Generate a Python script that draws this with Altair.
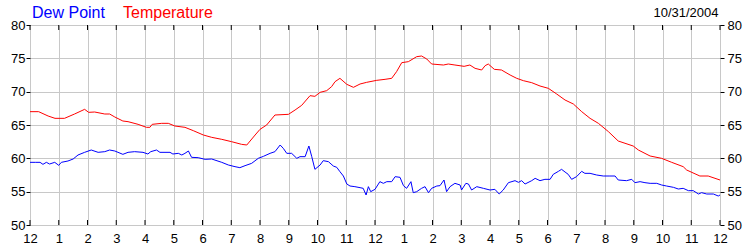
import altair as alt
import pandas as pd

# ---- data (hours since midnight, degrees F) ----
dew_hours = [0.0, 0.2, 0.35, 0.45, 0.57, 0.68, 0.86, 1.0, 1.09, 1.32, 1.5, 1.67, 1.9, 2.13, 2.37, 2.6, 2.77, 2.95,
             3.23, 3.41, 3.64, 3.93, 4.1, 4.2, 4.4, 4.52, 4.87, 4.97, 5.16, 5.28, 5.39, 5.51, 5.62, 5.85, 6.09, 6.32,
             6.67, 6.9, 7.13, 7.3, 7.48, 7.71, 7.94, 8.12, 8.35, 8.52, 8.7, 8.81, 8.93, 9.1, 9.28, 9.39, 9.57, 9.7,
             9.8, 9.91, 10.09, 10.2, 10.38, 10.55, 10.67, 10.78, 10.9, 11.02, 11.13, 11.3, 11.48, 11.59, 11.69, 11.77,
             11.85, 12.0, 12.17, 12.29, 12.41, 12.58, 12.7, 12.87, 12.99, 13.1, 13.25, 13.33, 13.45, 13.62, 13.74,
             13.86, 13.97, 14.15, 14.26, 14.4, 14.49, 14.61, 14.78, 14.96, 15.01, 15.16, 15.25, 15.36, 15.54, 15.77,
             16.0, 16.17, 16.32, 16.46, 16.64, 16.87, 16.99, 17.1, 17.22, 17.45, 17.57, 17.74, 17.91, 18.09, 18.2,
             18.38, 18.49, 18.61, 18.72, 18.84, 19.01, 19.19, 19.3, 19.48, 19.71, 19.94, 20.17, 20.35, 20.46, 20.75,
             20.93, 21.04, 21.22, 21.39, 21.57, 21.8, 21.97, 22.14, 22.38, 22.55, 22.72, 22.9, 23.07, 23.25, 23.36,
             23.54, 23.77, 23.94, 24.0]
dew_values = [59.4, 59.4, 59.4, 59.1, 59.4, 59.15, 59.4, 58.95, 59.4, 59.6, 59.9, 60.5, 60.9, 61.25, 60.9, 61.0, 61.25, 61.1,
              60.6, 60.9, 61.0, 60.9, 60.65, 61.0, 61.25, 60.9, 60.9, 60.65, 60.75, 60.5, 60.75, 61.1, 60.15, 60.1, 59.85, 59.9,
              59.4, 59.0, 58.75, 58.6, 58.9, 59.25, 60.0, 60.3, 60.75, 61.0, 62.0, 61.5, 60.75, 60.75, 60.0, 60.25, 60.25, 61.85,
              60.25, 58.35, 59.0, 59.65, 59.5, 58.85, 58.65, 58.0, 57.35, 56.15, 55.85, 55.75, 55.6, 55.5, 54.5, 55.75,
              55.0, 55.35, 56.5, 56.25, 56.5, 56.5, 57.25, 57.15, 55.9, 55.5, 56.5, 54.85, 55.0, 55.5, 55.75,
              54.85, 55.5, 55.85, 55.9, 56.75, 55.0, 55.75, 56.25, 56.0, 55.25, 56.25, 56.15, 55.25, 55.75, 55.5,
              55.25, 55.35, 54.65, 55.25, 56.35, 56.65, 56.4, 56.65, 56.15, 56.65, 57.0, 56.65, 56.85, 56.85, 57.6,
              58.05, 58.35, 57.95, 57.6, 56.85, 57.25, 58.05, 57.75, 57.75, 57.5, 57.35, 57.35, 57.35, 56.75, 56.65,
              56.85, 56.35, 56.5, 56.35, 56.25, 56.25, 56.0, 55.85, 55.65, 55.4, 55.5, 55.15, 55.15, 54.65, 54.85,
              54.65, 54.65, 54.35, 54.5]

temp_hours = [0.0, 0.3, 0.63, 0.87, 1.2, 1.55, 1.9, 2.04, 2.25, 2.6, 2.77, 2.95, 3.23, 3.41, 3.76, 4.05, 4.17, 4.25,
              4.58, 4.81, 5.04, 5.39, 5.68, 6.03, 6.32, 6.67, 7.01, 7.36, 7.54, 7.83, 8.0, 8.23, 8.52, 8.99, 9.22,
              9.45, 9.74, 9.91, 10.09, 10.32, 10.49, 10.61, 10.78, 11.02, 11.25, 11.48, 11.71, 12.06, 12.35, 12.58,
              12.75, 12.93, 13.16, 13.45, 13.62, 13.8, 13.97, 14.38, 14.55, 14.78, 15.1, 15.3, 15.48, 15.71, 15.83,
              15.94, 16.15, 16.4, 16.7, 16.93, 17.16, 17.45, 17.74, 18.03, 18.32, 18.61, 18.9, 19.19, 19.48, 19.77,
              20.12, 20.46, 20.98, 21.16, 21.57, 21.97, 22.32, 22.72, 22.84, 23.3, 23.59, 24.0]
temp_values = [67.0, 67.0, 66.35, 66.0, 66.0, 66.65, 67.35, 66.9, 66.95, 66.65, 66.65, 66.2, 65.6, 65.5, 65.1, 64.65, 64.65, 65.1,
               65.25, 65.25, 64.85, 64.65, 64.15, 63.5, 63.15, 62.85, 62.5, 62.1, 62.0, 63.5, 64.35, 65.0, 66.5, 66.6, 67.25,
               67.95, 69.4, 69.3, 69.9, 70.15, 70.75, 71.5, 72.0, 71.1, 70.65, 71.15, 71.4, 71.7, 71.85, 72.0,
               73.0, 74.35, 74.5, 75.25, 75.35, 74.9, 74.15, 74.0, 74.15, 74.0, 73.8, 74.0, 73.5, 73.25, 73.9,
               74.15, 73.35, 73.25, 72.5, 72.0, 71.65, 71.35, 70.85, 70.5, 69.65, 68.75, 68.15, 67.0, 66.0, 65.25,
               64.0, 62.6, 61.85, 61.25, 60.35, 60.0, 59.4, 58.75, 58.25, 57.35, 57.35, 56.75]

series_names = ["Dew Point", "Temperature"]
series_colors = ["#0000FF", "#FF0000"]
tick_hours = list(range(25))
y_ticks = [50, 55, 60, 65, 70, 75, 80]
date_label = "10/31/2004"

FONT = "Liberation Sans"

lines_df = pd.concat([
    pd.DataFrame({"hour": dew_hours, "val": dew_values, "series": series_names[0]}),
    pd.DataFrame({"hour": temp_hours, "val": temp_values, "series": series_names[1]}),
])

bottom_ticks = pd.DataFrame({"hour": tick_hours, "lo": 50.0, "hi": 50.75})
top_ticks = pd.DataFrame({"hour": tick_hours, "lo": 79.25, "hi": 80.0})

x_scale = alt.Scale(domain=[0, 24], nice=False, zero=False)
y_scale = alt.Scale(domain=[50, 80], nice=False, zero=False)
color_scale = alt.Scale(domain=series_names, range=series_colors)

x_axis = alt.Axis(values=tick_hours, labelExpr="datum.value % 12 == 0 ? '12' : '' + (datum.value % 12)",
                  ticks=False, labelPadding=7, grid=True, gridColor="#C8C8C8", domain=False, title=None,
                  labelFlush=False, labelOverlap=False, labelFont=FONT, labelFontSize=13, labelColor="#000000")

lines = alt.Chart(lines_df).mark_line(strokeWidth=1).encode(
    x=alt.X("hour:Q", scale=x_scale, axis=x_axis),
    y=alt.Y("val:Q", scale=y_scale,
            axis=alt.Axis(values=y_ticks, orient="left", grid=True, gridColor="#C8C8C8", domain=False,
                          tickSize=4, tickColor="#000000", labelPadding=1, title=None,
                          labelFont=FONT, labelFontSize=13, labelColor="#000000")),
    color=alt.Color("series:N", scale=color_scale, legend=None),
    detail="series:N",
)

ticks_bottom = alt.Chart(bottom_ticks).mark_rule(color="#000000", strokeWidth=1).encode(
    x=alt.X("hour:Q", scale=x_scale, axis=x_axis),
    y=alt.Y("lo:Q", scale=y_scale, axis=None),
    y2="hi:Q",
)

ticks_top = alt.Chart(top_ticks).mark_rule(color="#000000", strokeWidth=1).encode(
    x=alt.X("hour:Q", scale=x_scale, axis=x_axis),
    y=alt.Y("lo:Q", scale=y_scale,
            axis=alt.Axis(values=y_ticks, orient="right", grid=False, domain=False,
                          tickSize=4, tickColor="#000000", labelPadding=3, title=None,
                          labelFont=FONT, labelFontSize=13, labelColor="#000000")),
    y2="hi:Q",
)

# header texts (legend-like series names and the date)
dew_label = alt.Chart(pd.DataFrame({"label": [series_names[0]]})).mark_text(
    font=FONT, fontSize=16, align="left", baseline="alphabetic", color=series_colors[0]
).encode(text="label:N", x=alt.value(2), y=alt.value(-7))

temp_label = alt.Chart(pd.DataFrame({"label": [series_names[1]]})).mark_text(
    font=FONT, fontSize=16, align="left", baseline="alphabetic", color=series_colors[1]
).encode(text="label:N", x=alt.value(93), y=alt.value(-7))

date_text = alt.Chart(pd.DataFrame({"label": [date_label]})).mark_text(
    font=FONT, fontSize=13, align="right", baseline="alphabetic", color="#000000"
).encode(text="label:N", x=alt.value(688.5), y=alt.value(-8))

chart = alt.layer(lines, ticks_bottom, ticks_top, dew_label, temp_label, date_text).resolve_axis(
    y="independent"
).properties(
    width=690, height=200,
    padding={"left": 30, "top": 25, "right": 30, "bottom": 25},
    autosize=alt.AutoSizeParams(type="none"),
    background="#FFFFFF",
).configure_view(stroke="#000000", strokeWidth=1)

chart.save("out.html", embed_options={"renderer": "svg", "actions": False})
